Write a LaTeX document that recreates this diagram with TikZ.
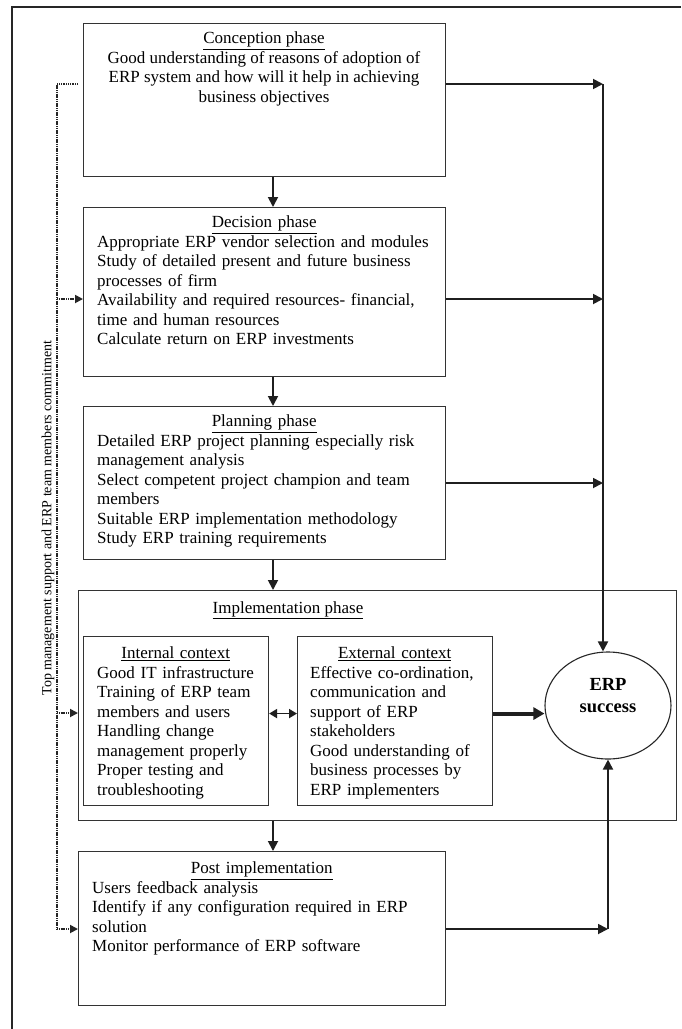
\documentclass[tikz,border=0pt]{standalone}
\usepackage{fontspec}
\setmainfont{Liberation Serif}
\usetikzlibrary{arrows.meta,shapes.geometric,calc}
\begin{document}
\begin{tikzpicture}[x=1pt,y=-1pt,
  box/.style={draw=black!80,line width=1.1pt,inner sep=0pt,anchor=north west},
  body/.style={anchor=north west,inner sep=0pt,align=left,font=\fontsize{17}{19.5}\selectfont},
  arr/.style={draw=black!88,line width=1.8pt,-{Triangle[length=10pt,width=10pt]}},
  dotline/.style={draw=black!85,line width=1.8pt,dash pattern=on 1.1pt off 0.7pt},
  dotarr/.style={dotline,-{Triangle[length=8pt,width=8pt]}},
]
\useasboundingbox (0,0) rectangle (681,1029);
\fill[white] (0,0) rectangle (681,1029);
% outer frame (top and left edges)
\coordinate (fTR) at (681,7);
\coordinate (fTL) at (12,7);
\coordinate (fBL) at (12,1029);
\draw[black!85,line width=1.1pt] (fTR) -- (fTL) -- (fBL);

% boxes
\node[box,minimum width=362pt,minimum height=153pt] (con) at (83,23) {};
\node[box,minimum width=362pt,minimum height=169pt] (dec) at (83,207) {};
\node[box,minimum width=362pt,minimum height=153pt] (pla) at (83,406) {};
\node[box,minimum width=598pt,minimum height=230pt] (imp) at (78,590) {};
\node[box,minimum width=185pt,minimum height=169pt] (int) at (83,636) {};
\node[box,minimum width=195pt,minimum height=169pt] (ext) at (297,636) {};
\node[box,minimum width=367pt,minimum height=154pt] (post) at (78,851) {};
\node[draw=black!85,line width=1.1pt,ellipse,minimum width=126pt,minimum height=107pt,inner sep=0pt] (erp) at (608,705.5) {};

% texts
\node[anchor=north,inner sep=0pt,align=center,font=\fontsize{17}{19.5}\selectfont] (conT) at (264,30)
 {\strut\underline{Conception phase}\\
  Good understanding of reasons of adoption of\\
  ERP system and how will it help in achieving\\
  business objectives};
\node[body,text width=345pt] (decT) at (97,214)
 {\strut\hbox to 334pt{\hfil\underline{Decision phase}\hfil}\\
  Appropriate ERP vendor selection and modules\\
  Study of detailed present and future business\\
  processes of firm\\
  Availability and required resources- financial,\\
  time and human resources\\
  Calculate return on ERP investments};
\node[body,text width=345pt] (plaT) at (97,413)
 {\strut\hbox to 334pt{\hfil\underline{Planning phase}\hfil}\\
  Detailed ERP project planning especially risk\\
  management analysis\\
  Select competent project champion and team\\
  members\\
  Suitable ERP implementation methodology\\
  Study ERP training requirements};
\node[anchor=base,inner sep=0pt,font=\fontsize{17}{19.5}\selectfont] (impT) at (288,613.5)
 {\underline{Implementation phase}};
\node[body,text width=172pt] (intT) at (97,645)
 {\strut\hbox to 157pt{\hfil\underline{Internal context}\hfil}\\
  Good IT infrastructure\\
  Training of ERP team\\
  members and users\\
  Handling change\\
  management properly\\
  Proper testing and\\
  troubleshooting};
\node[body,text width=182pt] (extT) at (310,645)
 {\strut\hbox to 169pt{\hfil\underline{External context}\hfil}\\
  Effective co-ordination,\\
  communication and\\
  support of ERP\\
  stakeholders\\
  Good understanding of\\
  business processes by\\
  ERP implementers};
\node[body,text width=345pt] (postT) at (92,860)
 {\strut\hbox to 339pt{\hfil\underline{Post implementation}\hfil}\\
  Users feedback analysis\\
  Identify if any configuration required in ERP\\
  solution\\
  Monitor performance of ERP software};
\node[align=center,inner sep=0pt,font=\bfseries\fontsize{18.5}{22}\selectfont] (erpT) at (608,696)
 {ERP\\success};
\node[rotate=90,inner sep=0pt,font=\fontsize{14}{16}\selectfont] (side) at (48,518)
 {Top management support and ERP team members commitment};

% vertical flow arrows
\coordinate (ax) at (273,0);
\draw[arr] (con.south -| ax) -- (dec.north -| ax);
\draw[arr] (dec.south -| ax) -- (pla.north -| ax);
\draw[arr] (pla.south -| ax) -- (imp.north -| ax);
\draw[arr] (imp.south -| ax) -- (post.north -| ax);

% right-hand collector
\coordinate (r1) at (603,84);
\coordinate (r2) at (603,299);
\coordinate (r3) at (603,483);
\coordinate (r4) at (608,929);
\draw[arr] (con.east |- r1) -- (r1);
\draw[arr] (dec.east |- r2) -- (r2);
\draw[arr] (pla.east |- r3) -- (r3);
\draw[arr] (r1) -- (r1 |- erp.north);
\draw[arr] (post.east |- r4) -- (r4);
\draw[arr] (r4) -- (erp.south);

% implementation arrows
\coordinate (m) at ($(ext.east)+(0,-7.5)$);
\draw[draw=black!88,line width=4pt,-{Triangle[length=11pt,width=12pt]}] (m) -- (m -| erp.west);
\draw[draw=black!88,line width=1.8pt,{Triangle[length=8pt,width=9pt]}-{Triangle[length=8pt,width=9pt]}] (int.east |- m) -- (ext.west |- m);

% dotted commitment line
\coordinate (d0) at (57,84);
\coordinate (d0e) at (78,84);
\coordinate (d1) at (57,299);
\coordinate (d2) at (57,713);
\coordinate (d3) at (57,929);
\draw[dotline] (d0e) -- (d0) -- (d3);
\draw[dotarr] (d1) -- (dec.west |- d1);
\draw[dotarr] (d2) -- (imp.west |- d2);
\draw[dotarr] (d3) -- (post.west |- d3);
\end{tikzpicture}
\end{document}
